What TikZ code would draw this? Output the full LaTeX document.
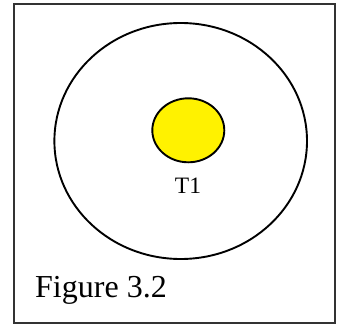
\documentclass[tikz,border=0pt]{standalone}
\usepackage{xcolor}
\usepackage{fontspec}
\setmainfont{Liberation Serif}
\usetikzlibrary{shapes.geometric, positioning}

\begin{document}
\begin{tikzpicture}[x=1pt, y=-1pt]
        % Styles for the rings and the texts
        \tikzstyle{ring} = [ellipse, draw, line width=1.9pt, inner sep=0pt]
        \tikzstyle{tag} = [inner sep=0pt, font=\fontsize{23.5}{26}\selectfont]

        \useasboundingbox (0,0) rectangle (343,324);

        % Frame
        \draw [line width=1.8pt, black!80] (14,4) rectangle (335,323);

        % Rings
        \node (zone) [ring, minimum width=252.6pt, minimum height=236pt] at (180.7,141) {};
        \node (core) [ring, fill=yellow, minimum width=72pt, minimum height=64pt] at (188.3,130.3) {};

        % Texts
        \node (t1) [tag, anchor=base] at (188,193.3) {T1};
        \node (caption) [tag, anchor=base west, font=\fontsize{32}{36}\selectfont] at (35,297.7) {Figure 3.2};
    \end{tikzpicture}
\end{document}
